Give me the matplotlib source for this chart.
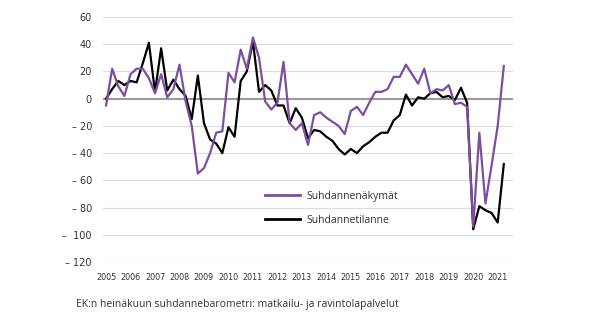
import matplotlib
matplotlib.use("Agg")
import matplotlib.pyplot as plt
import numpy as np

# Quarterly balance figures, 2005Q1 - 2021Q2
years = list(range(2005, 2022))
outlook = [-5, 22, 9, 2, 18, 22, 22, 15, 4, 18, 1, 7, 25, -2, -20, -55,
           -51, -40, -25, -24, 19, 12, 36, 22, 45, 30, -2, -8, -3, 27,
           -18, -23, -18, -34, -12, -10, -14, -17, -20, -26, -9, -6,
           -12, -3, 5, 5, 7, 16, 16, 25, 18, 11, 22, 4, 7, 6, 10,
           -4, -3, -6, -94, -25, -77, -49, -20, 24]
situation = [0, 7, 13, 10, 13, 12, 26, 41, 5, 37, 6, 14, 7, 2, -15, 17,
             -18, -30, -33, -40, -21, -28, 13, 20, 42, 5, 10, 6, -5, -5,
             -18, -7, -14, -29, -23, -24, -28, -31, -37, -41, -37, -40,
             -35, -32, -28, -25, -25, -16, -12, 3, -5, 1, 0, 4, 5, 1, 2,
             -1, 8, -3, -96, -79, -82, -84, -91, -48]
series_names = ["Suhdannenäkymät", "Suhdannetilanne"]
caption = "EK:n heinäkuun suhdannebarometri: matkailu- ja ravintolapalvelut"

yticks = np.arange(-120, 61, 20)
ylabels = ["– 120", "–  100", "– 80", "– 60", "– 40", "– 20",
           "0", "20", "40", "60"]
purple = "#7d4e9f"

fig = plt.figure(figsize=(6, 3.23), dpi=100)
ax = fig.add_axes([103 / 600, 1 - 262 / 323, 410 / 600, 245 / 323])

x = np.arange(len(outlook))
ax.set_xlim(-0.5, 66.5)
ax.set_ylim(-120, 60)

for v in yticks:
    if v == 0:
        continue
    ax.axhline(v, color="#dcdcdc", lw=0.8, zorder=0)
ax.axhline(0, color="#9a9a9a", lw=1.5, zorder=1)

ax.plot(x, outlook, color=purple, lw=1.6, label=series_names[0], zorder=3)
ax.plot(x, situation, color="black", lw=1.6, label=series_names[1], zorder=2)

ax.set_yticks(yticks)
ax.set_yticklabels(ylabels, fontsize=7, color="#333333")
ax.set_xticks([4 * i for i in range(len(years))])
ax.set_xticklabels([str(y) for y in years], fontsize=5.8, color="#333333")
ax.tick_params(axis="both", length=0)
ax.tick_params(axis="y", pad=8)
ax.tick_params(axis="x", pad=8)
for s in ax.spines.values():
    s.set_visible(False)

leg = ax.legend(loc="upper left", bbox_to_anchor=(265 / 600, 1 - 191 / 323),
                bbox_transform=fig.transFigure, frameon=False,
                handlelength=3.4, handletextpad=0.6, labelspacing=1.2,
                borderpad=0, borderaxespad=0,
                prop={"family": "Open Sans", "size": 7.5})
for line in leg.get_lines():
    line.set_linewidth(2)
for t in leg.get_texts():
    t.set_color("#333333")

fig.text(76 / 600, 1 - 304 / 323, caption, fontsize=7.5, family="Open Sans",
         color="#333333", va="center", ha="left")

fig.savefig("out.png", dpi=100)
